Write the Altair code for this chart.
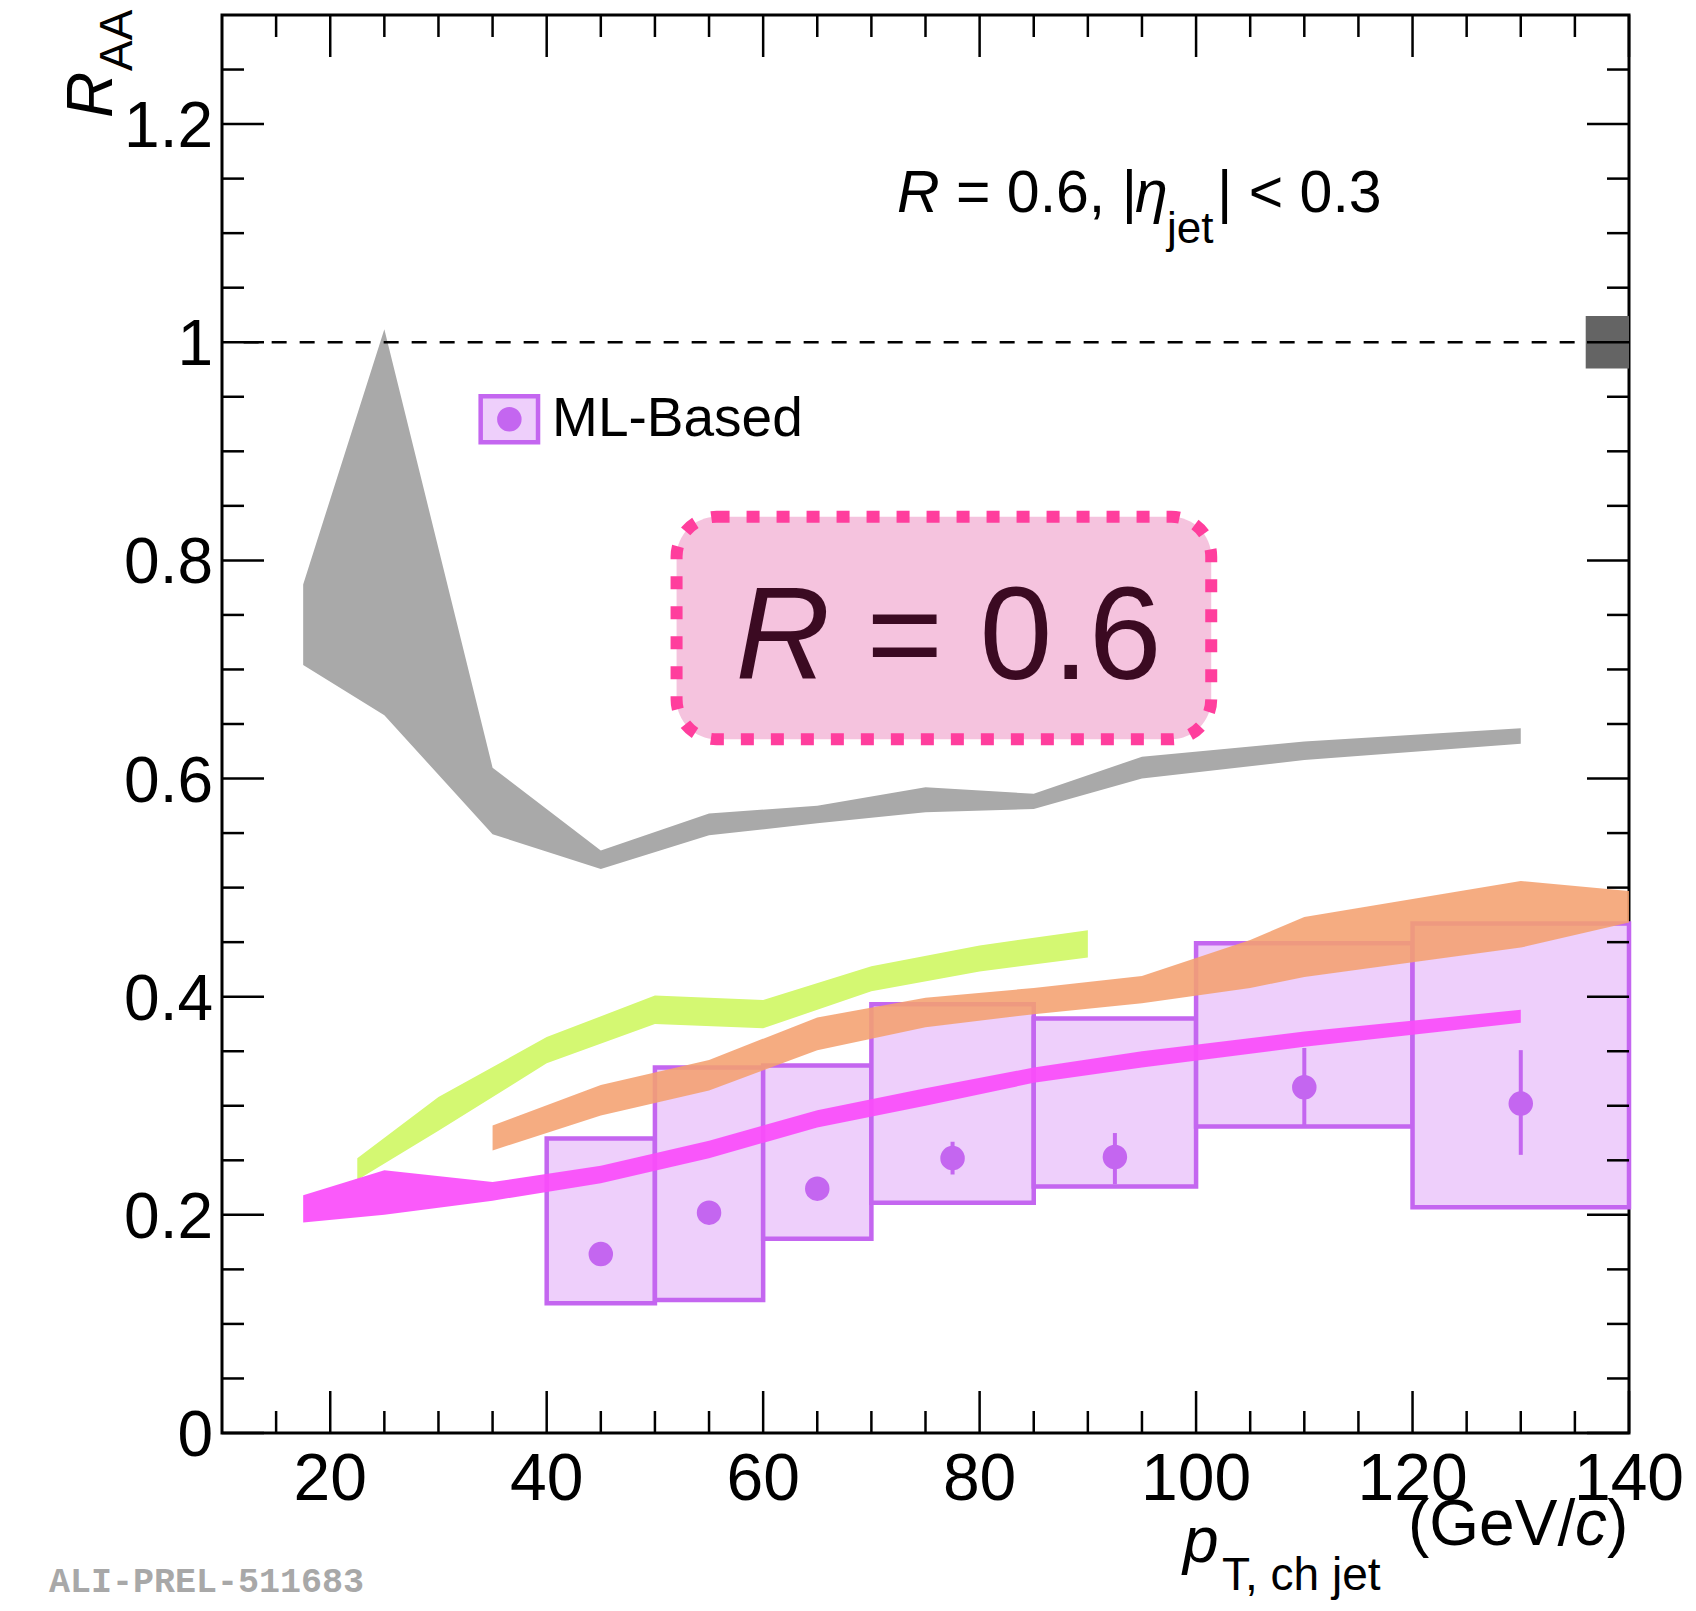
import altair as alt
import pandas as pd

# ---------------- data ----------------
gray_x = [17.5, 25, 35, 45, 55, 65, 75, 85, 95, 110, 130]
gray_hi = [0.778, 1.012, 0.610, 0.534, 0.568, 0.575, 0.592, 0.586, 0.620, 0.634, 0.646]
gray_lo = [0.704, 0.658, 0.549, 0.517, 0.548, 0.559, 0.569, 0.572, 0.600, 0.617, 0.632]

green_x = [22.5, 30, 40, 50, 60, 70, 80, 90]
green_hi = [0.252, 0.308, 0.363, 0.401, 0.397, 0.428, 0.447, 0.461]
green_lo = [0.232, 0.277, 0.339, 0.375, 0.371, 0.405, 0.423, 0.436]

orange_x = [35, 45, 55, 65, 75, 85, 95, 105, 110, 130, 140]
orange_hi = [0.282, 0.319, 0.342, 0.381, 0.399, 0.408, 0.419, 0.452, 0.473, 0.506, 0.497]
orange_lo = [0.259, 0.291, 0.314, 0.351, 0.372, 0.384, 0.394, 0.408, 0.418, 0.445, 0.468]

mag_x = [17.5, 25, 35, 45, 55, 65, 75, 85, 95, 110, 130]
mag_hi = [0.218, 0.241, 0.230, 0.245, 0.268, 0.296, 0.316, 0.335, 0.350, 0.368, 0.388]
mag_lo = [0.193, 0.200, 0.213, 0.229, 0.252, 0.280, 0.300, 0.321, 0.335, 0.354, 0.376]

bin_lo = [40, 50, 60, 70, 85, 100, 120]
bin_hi = [50, 60, 70, 85, 100, 120, 140]
bin_c = [45, 55, 65, 77.5, 92.5, 110, 130]
raa = [0.164, 0.202, 0.224, 0.252, 0.253, 0.317, 0.302]
sys_hi = [0.270, 0.335, 0.337, 0.393, 0.380, 0.449, 0.467]
sys_lo = [0.119, 0.122, 0.178, 0.211, 0.226, 0.281, 0.207]
stat_hi = [0.172, 0.212, 0.234, 0.267, 0.275, 0.353, 0.351]
stat_lo = [0.156, 0.192, 0.214, 0.237, 0.228, 0.281, 0.255]

x_major = [20, 40, 60, 80, 100, 120, 140]
x_labels = ["20", "40", "60", "80", "100", "120", "140"]
x_minor = [15, 25, 30, 35, 45, 50, 55, 65, 70, 75, 85, 90, 95, 105, 110, 115, 125, 130, 135]
y_major = [0.0, 0.2, 0.4, 0.6, 0.8, 1.0, 1.2]
y_labels = ["0", "0.2", "0.4", "0.6", "0.8", "1", "1.2"]
y_minor = [0.05, 0.1, 0.15, 0.25, 0.3, 0.35, 0.45, 0.5, 0.55, 0.65, 0.7, 0.75,
           0.85, 0.9, 0.95, 1.05, 1.1, 1.15, 1.25]

# ---------------- geometry / style ----------------
W, H = 1407, 1418
FONT = "Liberation Sans"
xs = alt.Scale(domain=[10, 140], nice=False, zero=False)
ys = alt.Scale(domain=[0, 1.3], nice=False, zero=False)


def X(f):
    return alt.X(f, scale=xs, axis=None)


def Y(f):
    return alt.Y(f, scale=ys, axis=None)


def band(xv, hi, lo, color, opacity=1.0):
    df = pd.DataFrame({"x": xv, "hi": hi, "lo": lo})
    return alt.Chart(df).mark_area(color=color, opacity=opacity, interpolate="linear").encode(
        x=X("x:Q"), y=Y("hi:Q"), y2="lo:Q")


def ptext(txt, x, y, size, style="normal", weight="normal", color="black", font=FONT, angle=0):
    kw = dict(font=font, fontSize=size, fontStyle=style, fontWeight=weight, color=color,
              align="left", baseline="alphabetic")
    if angle:
        kw["angle"] = angle
    return alt.Chart(pd.DataFrame({"t": [txt]})).mark_text(**kw).encode(
        x=alt.value(x), y=alt.value(y), text="t:N")


def dtext(txt, x, y, size, style="normal", color="black"):
    return alt.Chart(pd.DataFrame({"t": [txt], "x": [x], "y": [y]})).mark_text(
        font=FONT, fontSize=size, fontStyle=style, color=color, align="left",
        baseline="alphabetic").encode(x=X("x:Q"), y=Y("y:Q"), text="t:N")


layers = []
layers.append(band(gray_x, gray_hi, gray_lo, "#A9A9A9"))
layers.append(band(green_x, green_hi, green_lo, "#D4F872"))

# ML-based systematic boxes
boxes = pd.DataFrame({"lo": bin_lo, "hi": bin_hi, "c": bin_c, "raa": raa,
                      "shi": sys_hi, "slo": sys_lo, "ehi": stat_hi, "elo": stat_lo})
layers.append(alt.Chart(boxes).mark_rect(fill="#EECFFB", stroke="#C466F0", strokeWidth=4.5).encode(
    x=X("lo:Q"), x2="hi:Q", y=Y("slo:Q"), y2="shi:Q"))

layers.append(band(orange_x, orange_hi, orange_lo, "#F4A070", opacity=0.88))

layers.append(alt.Chart(boxes).mark_rule(color="#C466F0", strokeWidth=4).encode(
    x=X("c:Q"), y=Y("elo:Q"), y2="ehi:Q"))
layers.append(alt.Chart(boxes).mark_circle(color="#C466F0", opacity=1, size=600).encode(
    x=X("c:Q"), y=Y("raa:Q")))

layers.append(band(mag_x, mag_hi, mag_lo, "#FA4CFA", opacity=0.92))

# reference line at 1 and normalisation box
ref = pd.DataFrame({"x1": [12], "x2": [136], "y": [1.0]})
layers.append(alt.Chart(ref).mark_rule(color="black", strokeWidth=2.5, strokeDash=[15, 13]).encode(
    x=X("x1:Q"), x2="x2:Q", y=Y("y:Q")))
norm = pd.DataFrame({"x1": [136], "x2": [140], "y1": [0.976], "y2": [1.024]})
layers.append(alt.Chart(norm).mark_rect(color="#646464").encode(
    x=X("x1:Q"), x2="x2:Q", y=Y("y1:Q"), y2="y2:Q"))

# legend
leg = pd.DataFrame({"x1": [33.9], "x2": [39.2], "y1": [0.9084], "y2": [0.9505],
                    "cx": [36.55], "cy": [0.9294]})
layers.append(alt.Chart(leg).mark_rect(fill="#EECFFB", stroke="#C466F0", strokeWidth=4.5).encode(
    x=X("x1:Q"), x2="x2:Q", y=Y("y1:Q"), y2="y2:Q"))
layers.append(alt.Chart(leg).mark_circle(color="#C466F0", opacity=1, size=600).encode(
    x=X("cx:Q"), y=Y("cy:Q")))
layers.append(dtext("ML-Based", 40.5, 0.914, 55))

# highlighted label box
pbox = pd.DataFrame({"x1": [52.0], "x2": [101.4], "y1": [0.636], "y2": [0.840]})
layers.append(alt.Chart(pbox).mark_rect(fill="#F5C3DE", stroke="#FF3E9D", strokeWidth=12,
                                        strokeDash=[13, 17], cornerRadius=40).encode(
    x=X("x1:Q"), x2="x2:Q", y=Y("y1:Q"), y2="y2:Q"))
layers.append(dtext("R", 57.45, 0.691, 131, style="italic", color="#3B0A22"))
layers.append(dtext("= 0.6", 69.56, 0.691, 131, color="#3B0A22"))

# annotation R = 0.6, |eta_jet| < 0.3
layers.append(ptext("R", 675, 197, 59, style="italic"))
layers.append(ptext("= 0.6, |", 734, 197, 59))
layers.append(ptext("η", 913, 197, 59, style="italic"))
layers.append(ptext("jet", 945, 228, 44))
layers.append(ptext("| < 0.3", 995, 197, 59))


# ticks (inward, mirrored)
def xticks(vals, length, top):
    df = pd.DataFrame({"v": vals})
    ya, yb = (0, length) if top else (H, H - length)
    return alt.Chart(df).mark_rule(color="black", strokeWidth=2.5).encode(
        x=X("v:Q"), y=alt.value(ya), y2=alt.value(yb))


def yticks(vals, length, right):
    df = pd.DataFrame({"v": vals})
    xa, xb = (W, W - length) if right else (0, length)
    return alt.Chart(df).mark_rule(color="black", strokeWidth=2.5).encode(
        y=Y("v:Q"), x=alt.value(xa), x2=alt.value(xb))


for top in (False, True):
    layers.append(xticks(x_major, 42, top))
    layers.append(xticks(x_minor, 22, top))
for right in (False, True):
    layers.append(yticks(y_major, 42, right))
    layers.append(yticks(y_minor, 22, right))

# tick labels
xl = pd.DataFrame({"v": x_major, "t": x_labels})
layers.append(alt.Chart(xl).mark_text(font=FONT, fontSize=66, align="center",
                                      baseline="alphabetic", color="black").encode(
    x=X("v:Q"), y=alt.value(H + 67), text="t:N"))
yl = pd.DataFrame({"v": y_major, "t": y_labels})
layers.append(alt.Chart(yl).mark_text(font=FONT, fontSize=64, align="right",
                                      baseline="alphabetic", dy=23, color="black").encode(
    y=Y("v:Q"), x=alt.value(-9), text="t:N"))

# axis titles
layers.append(ptext("p", 961, 1547, 64, style="italic"))
layers.append(ptext("T, ch jet", 1000, 1575, 46))
layers.append(ptext("(GeV/", 1186, 1530, 64))
layers.append(ptext("c", 1353, 1530, 64, style="italic"))
layers.append(ptext(")", 1385, 1530, 64))

layers.append(ptext("R", -110, 103, 64, style="italic", angle=270))
layers.append(ptext("AA", -90, 56, 46, angle=270))

layers.append(ptext("ALI-PREL-511683", -173, 1577, 35, weight="bold", color="#A8A8A8",
                    font="Liberation Mono"))

chart = alt.layer(*layers).properties(
    width=W, height=H,
    autosize=alt.AutoSizeParams(type="none"),
    padding={"left": 214, "top": 7, "right": 59, "bottom": 170},
    background="white",
).configure_view(stroke="black", strokeWidth=3)

chart.save("out.html", embed_options={"renderer": "svg", "actions": False})
